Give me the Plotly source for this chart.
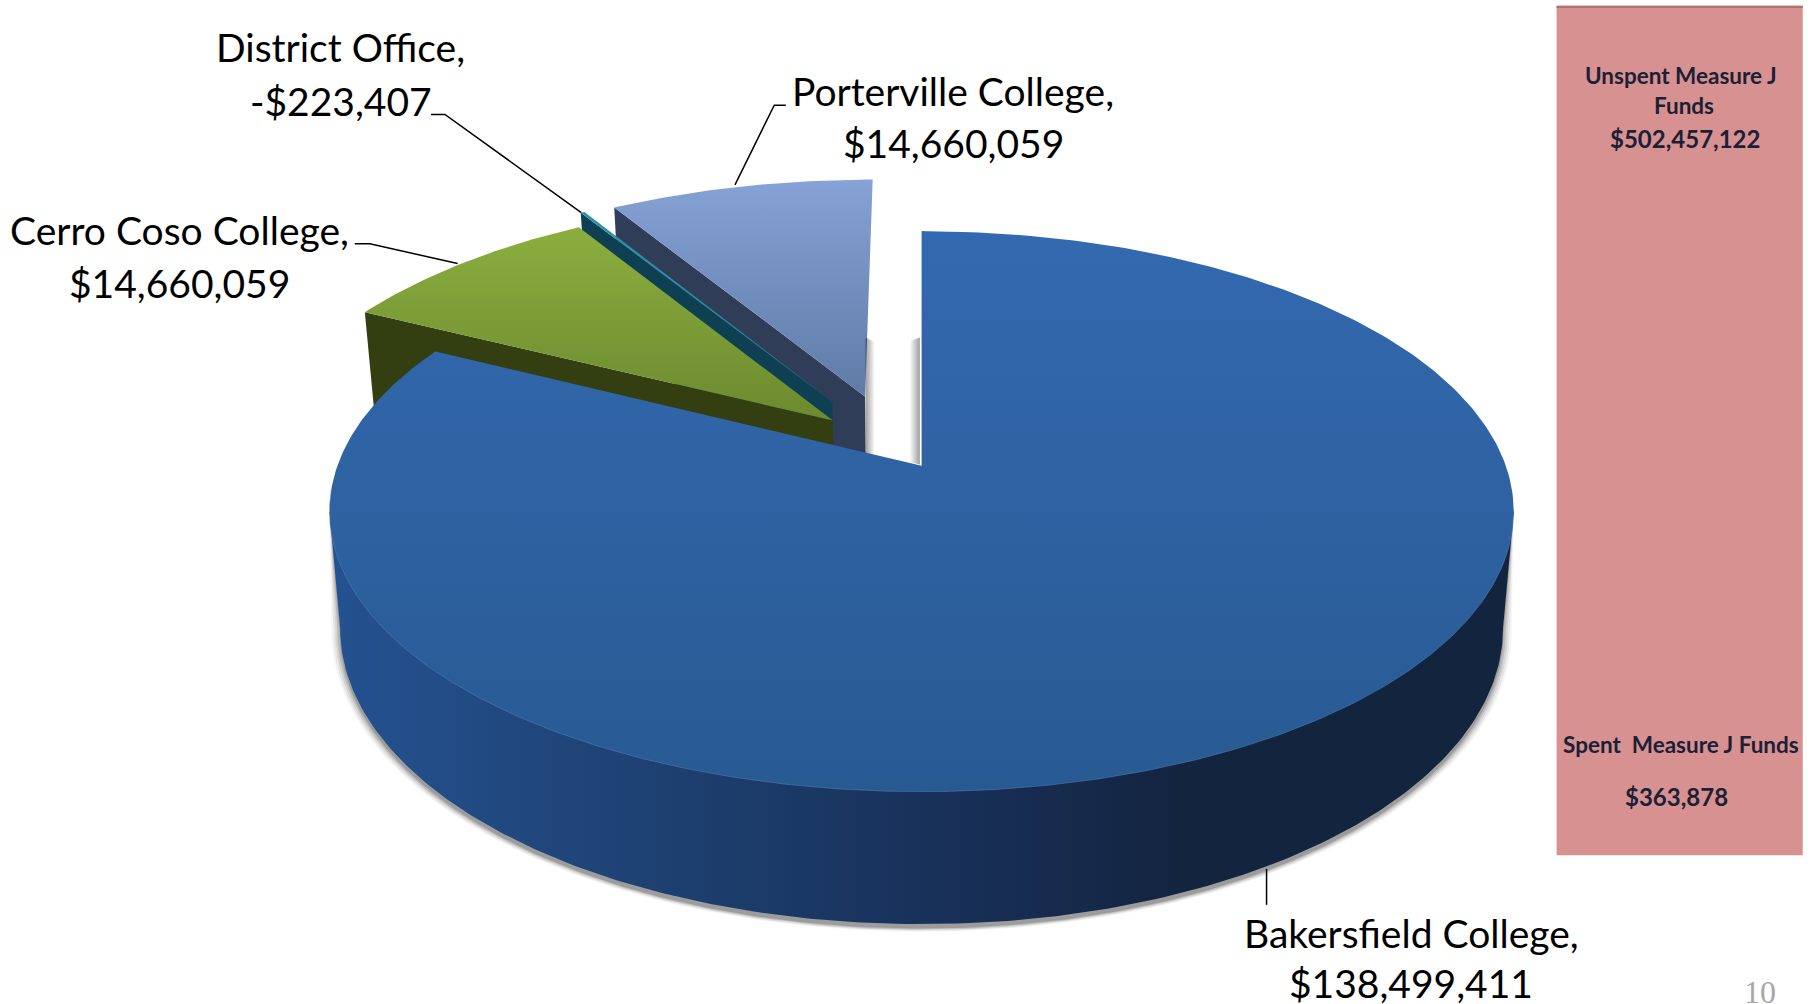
import numpy as np
import plotly.graph_objects as go

# ---- data ----
NAMES = ["Bakersfield College", "Cerro Coso College", "District Office", "Porterville College"]
VALUES = [138499411, 14660059, -223407, 14660059]
VALUE_LABELS = ["$138,499,411", "$14,660,059", "-$223,407", "$14,660,059"]
MEASURE_LABELS = ["Unspent Measure J", "Funds"]
UNSPENT_LABEL = "$502,457,122"
SPENT_NAME = "Spent  Measure J Funds"
SPENT_LABEL = "$363,878"
PAGE_NUMBER = "10"

# ---- projection of the tilted pie onto the page (pixels) ----
K = 1812 / 1568
APEX_X, APEX_Y = 797.5 * K, 403 * K
RADIUS = 505.5 * K
PERSP = 0.163
TILT = -170.4 * K
DEPTH = 99 * K
SHRINK = 0.018
EXPLODE = [(0, 0), (-0.156, 0.170), (-0.159, 0.243), (-0.101, 0.265)]


def project(u, v, z=0.0, grow=0.0):
    u, v = np.asarray(u, float), np.asarray(v, float)
    w = 1 + PERSP * v
    s = 1 - SHRINK * z + grow / RADIUS
    return APEX_X + RADIUS * s * u / w, (APEX_Y + TILT * s * v + z * DEPTH) / w


total = sum(abs(v) for v in VALUES)
edges = np.concatenate([[0], np.cumsum([abs(v) / total * 2 * np.pi for v in VALUES])])


def arc(i, a=None, b=None, z=0.0, grow=0.0):
    a = edges[i] if a is None else a
    b = edges[i + 1] if b is None else b
    t = np.linspace(a, b, max(3, int(abs(b - a) * 80)))
    ox, oy = EXPLODE[i]
    return project(ox + np.sin(t), oy + np.cos(t), z, grow)


def corner(i, t=None, z=0.0):
    ox, oy = EXPLODE[i]
    if t is None:
        return project(ox, oy, z)
    return project(ox + np.sin(t), oy + np.cos(t), z)


fig = go.Figure()


def poly(xs, ys, color=None, grad=None):
    kw = dict(x=list(map(float, xs)) + [float(xs[0])], y=list(map(float, ys)) + [float(ys[0])],
              mode="lines", fill="toself", hoverinfo="skip", showlegend=False,
              line=dict(width=0, color="rgba(0,0,0,0)"))
    if grad:
        kw["fillgradient"] = grad
    else:
        kw["fillcolor"] = color
    fig.add_trace(go.Scatter(**kw))


def edge_wall(i, t, color):
    ax, ay = corner(i)
    bx, by = corner(i, t)
    ax2, ay2 = corner(i, None, 1)
    bx2, by2 = corner(i, t, 1)
    poly([ax, bx, bx2, ax2], [ay, by, by2, ay2], color)


def top_face(i, c_top, c_bottom):
    ax, ay = corner(i)
    xs, ys = arc(i)
    poly(np.r_[ax, xs], np.r_[ay, ys],
         grad=dict(type="vertical", colorscale=[[0, c_bottom], [1, c_top]]))


def body(grow=0.0, z=1.0):
    """Outline of the cylinder side: lower rim, closed through the side extremes of the upper rim."""
    t0 = np.arccos(-PERSP)  # angle where the projected rim is widest
    xs, ys = arc(0, t0, 2 * np.pi - t0, z, grow)
    ex, ey = project(np.array([-np.sin(t0), np.sin(t0)]), np.array([-PERSP, -PERSP]), 0, 0)
    return np.r_[xs, ex], np.r_[ys, ey]


# Porterville (furthest back)
edge_wall(3, edges[3], "#2f3d58")
top_face(3, "#86a2d6", "#5f7ba6")
poly(np.array([749, 757, 757, 749]) * K, np.array([292, 296, 394, 394]) * K,
     grad=dict(type="horizontal", colorscale=[[0, "rgba(0,0,0,0.38)"], [1, "rgba(0,0,0,0)"]]))

# District office sliver
edge_wall(2, edges[2], "#0f3f52")
top_face(2, "#2f93a8", "#2b8397")

# Cerro Coso
edge_wall(1, edges[1], "#333f10")
top_face(1, "#8bae3f", "#6c8a2e")

# Bakersfield
for g, alpha in zip([9, 7, 5, 3, 1], [0.04, 0.06, 0.08, 0.12, 0.16]):
    xs, ys = body(g, 1.03)
    poly(xs, ys, f"rgba(0,0,0,{alpha})")
poly(np.array([787, 796, 796, 787]) * K, np.array([295, 292, 402, 400]) * K,
     grad=dict(type="horizontal", colorscale=[[0, "rgba(0,0,0,0)"], [1, "rgba(0,0,0,0.38)"]]))
xs, ys = body()
poly(xs, ys, grad=dict(type="horizontal",
                       colorscale=[[0, "#245290"], [0.3, "#1d3f6f"], [0.55, "#172e55"],
                                   [0.72, "#13243f"], [1, "#13243f"]]))
top_face(0, "#3369b0", "#285a92")
rx, ry = arc(0, np.radians(100), np.radians(265), 0)
fig.add_trace(go.Scatter(x=rx, y=ry, mode="lines", hoverinfo="skip", showlegend=False,
                         line=dict(color="rgba(90,135,200,0.45)", width=1)))

# Leader lines
LEADERS = [[(1096, 752), (1096, 783)],
           [(307, 211), (320, 211), (396, 228)],
           [(373, 99), (385, 99), (503, 184)],
           [(680, 91), (670, 91), (636, 160)]]
for pts in LEADERS:
    fig.add_trace(go.Scatter(x=[p[0] * K for p in pts], y=[p[1] * K for p in pts], mode="lines",
                             hoverinfo="skip", showlegend=False,
                             line=dict(color="#000000", width=1.5)))

# Data labels
LABEL_POS = [(1221, 807, 851), (155, 199, 245), (295, 41, 87), (825, 79, 124)]
ann = []
FONT = "Lato"


def text(x, y, s, size, color="#000000", family=FONT, bold=False):
    ann.append(dict(x=x, y=y, xref="x", yref="y", text=f"<b>{s}</b>" if bold else s, showarrow=False,
                    xanchor="center", yanchor="middle",
                    font=dict(family=family, size=size, color=color)))


for name, lab, (x, y1, y2) in zip(NAMES, VALUE_LABELS, LABEL_POS):
    text(x * K, y1 * K, name + ",", 39)
    text(x * K, y2 * K, lab, 39)

# Side panel
DARK = "#1b2036"
text(1455 * K, 65 * K, MEASURE_LABELS[0], 22.5, DARK, bold=True)
text(1457 * K, 91 * K, MEASURE_LABELS[1], 22.5, DARK, bold=True)
text(1458 * K, 120 * K, UNSPENT_LABEL, 24, DARK, bold=True)
text(1455 * K, 644 * K, SPENT_NAME, 22.5, DARK, bold=True)
text(1451 * K, 689 * K, SPENT_LABEL, 24, DARK, bold=True)
text(1523 * K, 858 * K, PAGE_NUMBER, 32, "#a6a6a6", "Liberation Serif")

shapes = [
    dict(type="rect", xref="x", yref="y", x0=1347 * K, x1=1560 * K, y0=5 * K, y1=740 * K,
         fillcolor="#d79190", line=dict(width=0), layer="below"),
    dict(type="rect", xref="x", yref="y", x0=1347 * K, x1=1560 * K, y0=5 * K, y1=7 * K,
         fillcolor="#ad7170", line=dict(width=0), layer="below"),
]

fig.update_layout(
    width=1812, height=1004, margin=dict(l=0, r=0, t=0, b=0), autosize=False,
    paper_bgcolor="#ffffff", plot_bgcolor="#ffffff", showlegend=False,
    xaxis=dict(range=[0, 1812], visible=False, fixedrange=True),
    yaxis=dict(range=[1004, 0], visible=False, fixedrange=True),
    shapes=shapes, annotations=ann,
)
fig.write_html("out.html", config=dict(displayModeBar=False),
               post_script="document.body.style.margin='0';document.body.style.overflow='hidden';")
